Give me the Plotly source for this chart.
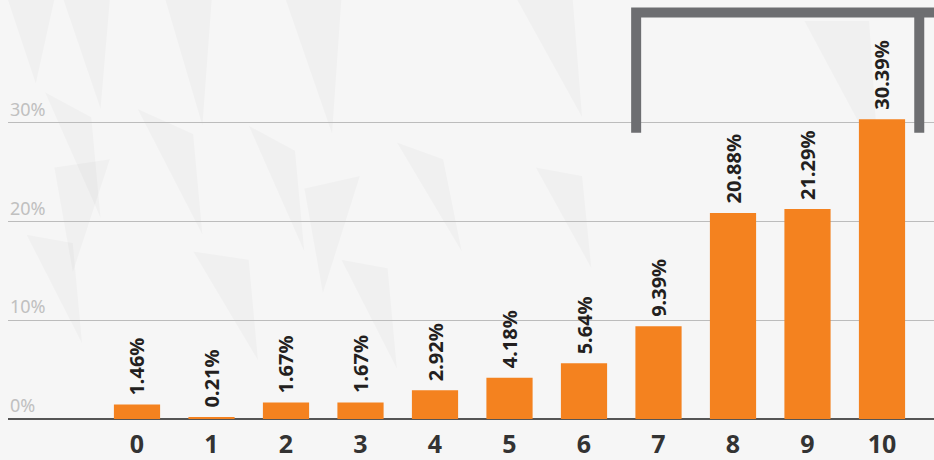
import plotly.graph_objects as go

categories = ["0", "1", "2", "3", "4", "5", "6", "7", "8", "9", "10"]
values = [1.46, 0.21, 1.67, 1.67, 2.92, 4.18, 5.64, 9.39, 20.88, 21.29, 30.39]
y_ticks = [0, 10, 20, 30]
y_tick_labels = ["0%", "10%", "20%", "30%"]

W, H = 934, 460
ML, MR, MT, MB = 8, 0, 0, 41
px_per_cat = 74.5
x0_px = 137
x_left = (ML - x0_px) / px_per_cat
x_right = (W - x0_px) / px_per_cat
y_top = (H - MB) / 9.867

xs = list(range(len(categories)))

fig = go.Figure()
fig.add_trace(go.Bar(
    x=xs,
    y=values,
    marker=dict(color="#f4821f", line=dict(width=0)),
    width=0.62,
    hoverinfo="x+y",
))

shapes = []
# subtle faceted background (thin triangular facets)
bg_polys = [
    "M 0.00,1 L 0.05,1 L 0.03,0.80 Z",
    "M 0.06,1 L 0.11,1 L 0.10,0.74 Z",
    "M 0.17,1 L 0.22,1 L 0.21,0.70 Z",
    "M 0.30,1 L 0.36,1 L 0.35,0.68 Z",
    "M 0.55,1 L 0.61,1 L 0.62,0.72 Z",
    "M 0.86,0.95 L 0.93,0.95 L 0.94,0.62 Z",
    "M 0.04,0.78 L 0.09,0.72 L 0.10,0.48 Z",
    "M 0.14,0.74 L 0.20,0.68 L 0.21,0.44 Z",
    "M 0.26,0.70 L 0.31,0.64 L 0.32,0.40 Z",
    "M 0.42,0.66 L 0.47,0.62 L 0.49,0.40 Z",
    "M 0.57,0.60 L 0.62,0.58 L 0.63,0.36 Z",
    "M 0.02,0.44 L 0.07,0.42 L 0.08,0.18 Z",
    "M 0.20,0.40 L 0.26,0.38 L 0.27,0.14 Z",
    "M 0.36,0.38 L 0.41,0.36 L 0.42,0.12 Z",
    "M 0.05,0.60 L 0.11,0.62 L 0.07,0.35 Z",
    "M 0.32,0.55 L 0.38,0.58 L 0.34,0.30 Z",
]
for p in bg_polys:
    shapes.append(dict(type="path", path=p, xref="paper", yref="paper",
                       fillcolor="rgba(0,0,0,0.022)", line=dict(width=0), layer="below"))

# bracket decoration
shapes.append(dict(type="path", xref="x", yref="y",
                   path="M 6.70,29.0 L 6.70,41.2 L 10.75,41.2",
                   line=dict(color="#6d6e71", width=10), layer="above"))
shapes.append(dict(type="line", xref="x", yref="y", x0=10.50, x1=10.50, y0=29.0, y1=41.2,
                   line=dict(color="#6d6e71", width=10), layer="above"))

annotations = []
for v, t in zip(y_ticks, y_tick_labels):
    annotations.append(dict(x=0, xref="paper", y=v, yref="y", text=t, showarrow=False,
                            xanchor="left", yanchor="bottom", yshift=0,
                            font=dict(family="Noto Sans", size=18, color="#c0c0c0")))
for x, v in zip(xs, values):
    annotations.append(dict(x=x, y=v, xref="x", yref="y", text=f"{v:.2f}%",
                            showarrow=False, textangle=-90, xanchor="center",
                            yanchor="bottom", yshift=7,
                            font=dict(family="Noto Sans", size=20, color="#231f20",
                                      weight="bold")))

fig.update_layout(
    width=W, height=H,
    margin=dict(l=ML, r=MR, t=MT, b=MB, autoexpand=False, pad=0),
    paper_bgcolor="#f6f6f6",
    plot_bgcolor="rgba(0,0,0,0)",
    showlegend=False,
    shapes=shapes,
    annotations=annotations,
    xaxis=dict(range=[x_left, x_right], tickvals=xs,
               ticktext=categories, showgrid=False, zeroline=False, showline=False,
               ticks="", tickfont=dict(family="Noto Sans", size=25, color="#333333", weight="bold"),
               ticklabelstandoff=8),
    yaxis=dict(range=[0, y_top], tickvals=y_ticks, showticklabels=False,
               showgrid=True, gridcolor="#bcbcbc", gridwidth=1,
               zeroline=True, zerolinecolor="#555555", zerolinewidth=2),
)

fig.write_html("out.html", config={"displayModeBar": False},
               post_script="document.body.style.margin='0';document.body.style.overflow='hidden';")
